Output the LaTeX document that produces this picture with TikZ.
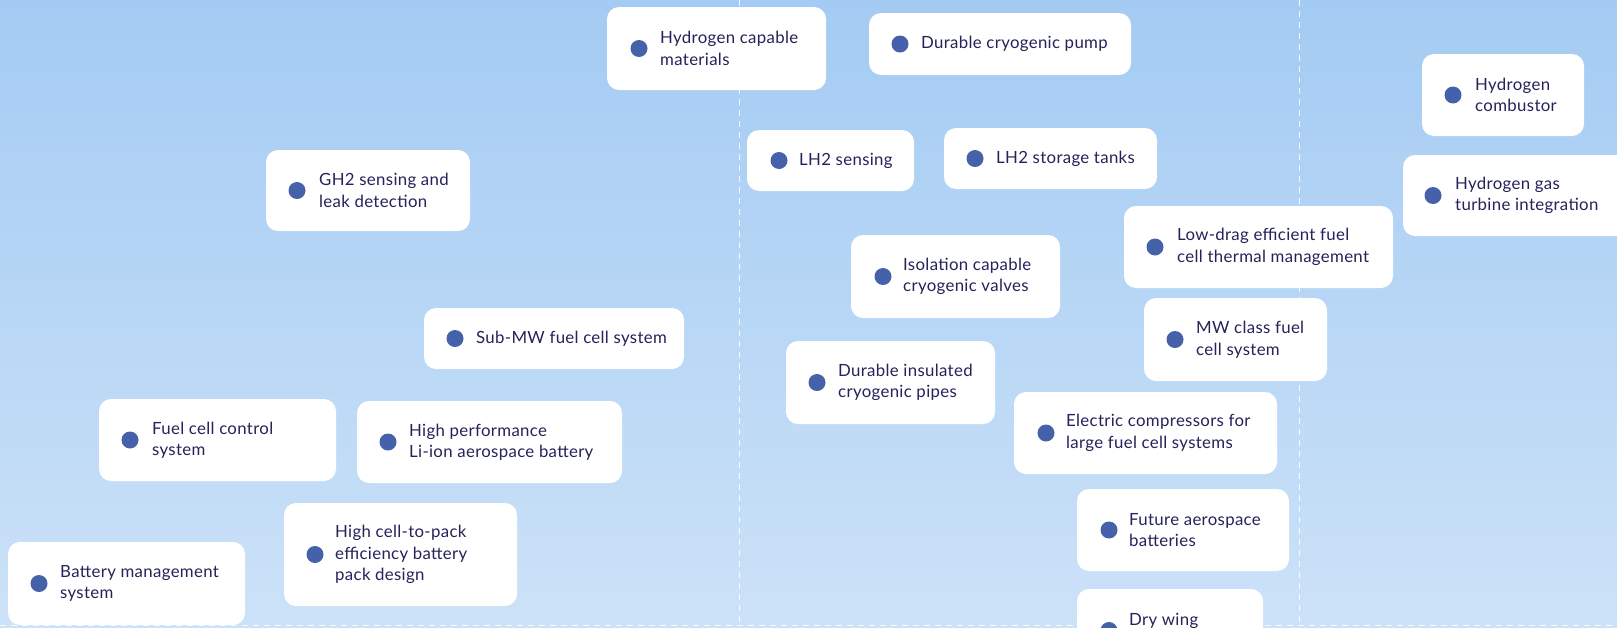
\documentclass[tikz,border=0pt]{standalone}
\usepackage{fontspec}
\setmainfont{Lato}[LetterSpace=2]
\usetikzlibrary{fit}
\definecolor{bgtop}{HTML}{A4CBF3}
\definecolor{bgbot}{HTML}{CCE2F8}
\definecolor{dotc}{HTML}{4561A9}
\definecolor{txtc}{HTML}{24235A}
\tikzset{
  card/.style={fill=white, draw=none, rounded corners=12pt, inner sep=0pt},
  dotn/.style={circle, fill=dotc, minimum size=17pt, inner sep=0pt},
  lbl/.style={anchor=west, align=left, text=txtc, inner sep=0pt,
    font=\fontsize{16.8}{21.5}\selectfont},
  guide/.style={white, line width=1pt, dash pattern=on 6pt off 5pt, opacity=0.85}
}
% #1 name, #2 x1, #3 y1, #4 x2, #5 y2, #6 dot x, #7 text x, #8 text
\newcommand{\card}[8]{%
  \node[card, fit={(#2,#3) (#4,#5)}] (#1) {};
  \node[dotn] (#1-d) at ({#6},{(#3+#5)/2}) {};
  \node[lbl] (#1-t) at ({#7},{(#3+#5)/2}) {#8};
}
\begin{document}
\begin{tikzpicture}[x=1pt,y=-1pt]
\useasboundingbox (0,0) rectangle (1617,627);
\clip (0,0) rectangle (1617,627);
\shade[top color=bgtop, bottom color=bgbot] (0,0) rectangle (1617,627);
\coordinate (v1t) at (739,0);
\coordinate (v1b) at (739,627);
\coordinate (v2t) at (1299,0);
\coordinate (v2b) at (1299,627);
\coordinate (hl) at (0,625);
\coordinate (hr) at (1617,625);
\draw[guide] (v1t) -- (v1b);
\draw[guide] (v2t) -- (v2b);
\draw[guide] (hl) -- (hr);

\card{hcm}{607}{7}{826}{90}{639}{660}{Hydrogen capable\\materials}
\card{dcp}{869}{13}{1131}{75}{900}{921}{Durable cryogenic pump}
\card{gh2}{266}{150}{470}{231}{297}{319}{GH2 sensing and\\leak detection}
\card{lh2s}{747}{130}{914}{191}{779}{799}{LH2 sensing}
\card{lh2t}{944}{128}{1157}{189}{975}{996}{LH2 storage tanks}
\card{hcomb}{1422}{54}{1584}{136}{1453}{1475}{Hydrogen\\combustor}
\card{hgt}{1403}{155}{1630}{236}{1433}{1455}{Hydrogen gas\\turbine integration}
\card{ldrag}{1124}{206}{1393}{288}{1155}{1177}{Low-drag efficient fuel\\cell thermal management}
\card{iso}{851}{235}{1060}{318}{883}{903}{Isolation capable\\cryogenic valves}
\card{mw}{1144}{298}{1327}{381}{1175}{1196}{MW class fuel\\cell system}
\card{dip}{786}{341}{995}{424}{817}{838}{Durable insulated\\cryogenic pipes}
\card{ecomp}{1014}{392}{1277}{474}{1046}{1066}{Electric compressors for\\large fuel cell systems}
\card{fab}{1077}{489}{1289}{571}{1109}{1129}{Future aerospace\\batteries}
\card{submw}{424}{308}{684}{369}{455}{476}{Sub-MW fuel cell system}
\card{fcc}{99}{399}{336}{481}{130}{152}{Fuel cell control\\system}
\card{hpb}{357}{401}{622}{483}{388}{409}{High performance\\Li-ion aerospace battery}
\card{hctp}{284}{503}{517}{606}{315}{335}{High cell-to-pack\\efficiency battery\\pack design}
\card{bms}{8}{542}{245}{625}{39}{60}{Battery management\\system}

\node[card, fit={(1077,589) (1263,680)}] (dry) {};
\node[dotn] (dry-d) at (1109,630.5) {};
\node[lbl, anchor=base west] (dry-t) at (1129,625) {Dry wing};
\end{tikzpicture}
\end{document}
